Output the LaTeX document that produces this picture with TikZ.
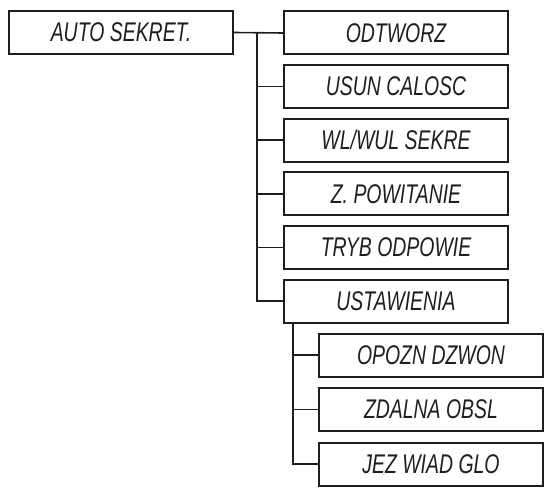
\documentclass[tikz,border=0pt]{standalone}
\usepackage{fontspec}
\setmainfont[FakeStretch=0.72]{Liberation Sans}
\usetikzlibrary{positioning}
\definecolor{lcd}{RGB}{30,30,30}

\tikzset{
	menubox/.style={draw=lcd,line width=2pt,minimum width=224pt,minimum height=43pt,
		inner sep=0pt,text=lcd,font=\fontsize{27}{30}\selectfont\itshape},
	branch/.style={draw=lcd,line width=1.6pt}
}

\begin{document}
\begin{tikzpicture}[x=1pt,y=-1pt]
	\useasboundingbox (0,0) rectangle (548,487);

	% main entry
	\node[menubox] (root) at (121,32.5) {AUTO SEKRET.};

	% first level
	\foreach \t [count=\i] in {ODTWORZ,USUN CALOSC,WL/WUL SEKRE,Z. POWITANIE,TRYB ODPOWIE,USTAWIENIA}
		\node[menubox] (item\i) at (396,{33+53.6*(\i-1)}) {\t};

	% second level (under USTAWIENIA)
	\foreach \t [count=\i] in {OPOZN DZWON,ZDALNA OBSL,JEZ WIAD GLO}
		\node[menubox] (sub\i) at (431,{355+54.5*(\i-1)}) {\t};

	% connectors root -> first level
	\coordinate (trunk) at (257,33);
	\draw[branch] (root.east) -- (item1.west);
	\foreach \i in {2,...,6} \draw[branch] (trunk) |- (item\i.west);

	% connectors USTAWIENIA -> second level
	\coordinate (subtrunk) at (item6.south -| 293,0);
	\foreach \i in {1,...,3} \draw[branch] (subtrunk) |- (sub\i.west);
\end{tikzpicture}
\end{document}
